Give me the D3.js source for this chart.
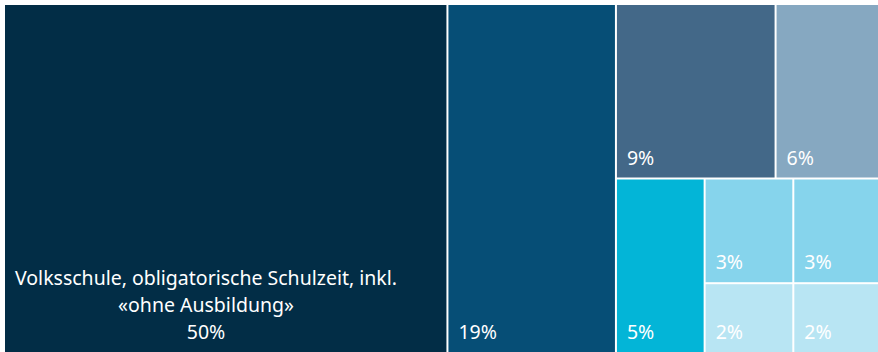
<!DOCTYPE html>
<html>
<head>
<meta charset="utf-8">
<script src="https://cdn.jsdelivr.net/npm/d3@7"></script>
<style>
  html, body { margin: 0; padding: 0; background: #ffffff; }
  svg { display: block; }
  text { font-family: "Noto Sans", Lato, sans-serif; fill: #ffffff; }
</style>
</head>
<body>
<svg id="chart" width="878" height="352"></svg>
<script>
// Nodes of the treemap: leaves carry a share (in %), groups only nest them.
const nodeIds   = ["root", "A", "B", "R", "T", "U", "C", "D", "E", "V", "W", "F", "G", "H", "I"];
const parentIds = ["",     "root", "root", "root", "R", "R", "T", "T", "U", "U", "U", "V", "V", "W", "W"];
const shares    = [null,   50,   19,   null, null, null, 9,   6,   5,   null, null, 3,   2,   3,   2];
const names     = ["", "Volksschule, obligatorische Schulzeit, inkl. «ohne Ausbildung»", "", "", "", "", "", "", "", "", "", "", "", "", ""];

// Fill colours per leaf
const leafIds  = ["A", "B", "C", "D", "E", "F", "G", "H", "I"];
const palette  = ["#022d46", "#064e76", "#436888", "#86a8c1", "#03b5d7", "#86d4ec", "#b8e5f3", "#86d4ec", "#b8e5f3"];

const W = 878, H = 352;
const margin = { left: 5, top: 5 };
const svg = d3.select("#chart");
const plot = svg.append("g").attr("transform", `translate(${margin.left},${margin.top})`);

const table = nodeIds.map((id, i) => ({ id, parent: parentIds[i] || null, value: shares[i], name: names[i] }));
const root = d3.stratify().id(d => d.id).parentId(d => d.parent)(table)
  .sum(d => d.value || 0);

d3.treemap()
  .tile(d3.treemapSliceDice)
  .size([W + 3 - margin.left, H - margin.top])
  .paddingInner(2)
  .round(false)(root);

const color = d3.scaleOrdinal().domain(leafIds).range(palette);
const fmt = v => d3.format(".0f")(v) + "%";

const cells = plot.selectAll("g.cell")
  .data(root.leaves())
  .join("g")
  .attr("class", "cell");

cells.append("rect")
  .attr("x", d => d.x0)
  .attr("y", d => d.y0)
  .attr("width", d => d.x1 - d.x0)
  .attr("height", d => d.y1 - d.y0)
  .attr("fill", d => color(d.id));

const fontSize = 19.5, lineH = 27, padX = 10, padBottom = 13;

cells.each(function (d) {
  const g = d3.select(this);
  const name = d.data.name;
  if (!name) {
    g.append("text")
      .attr("x", d.x0 + padX)
      .attr("y", d.y1 - padBottom)
      .attr("font-size", fontSize)
      .text(fmt(d.value));
    return;
  }
  // wrap the category name to the cell width, then centre the block
  const maxW = (d.x1 - d.x0) * 0.9;
  const probe = g.append("text").attr("font-size", fontSize);
  const words = name.split(" ");
  const lines = [];
  let cur = "";
  words.forEach(w => {
    const test = cur ? cur + " " + w : w;
    probe.text(test);
    if (probe.node().getComputedTextLength() > maxW && cur) {
      lines.push(cur);
      cur = w;
    } else cur = test;
  });
  if (cur) lines.push(cur);
  lines.push(fmt(d.value));
  let widest = 0;
  lines.forEach(l => { probe.text(l); widest = Math.max(widest, probe.node().getComputedTextLength()); });
  probe.remove();
  const cx = d.x0 + padX + widest / 2;
  const lastY = d.y1 - padBottom;
  g.selectAll("text.lbl")
    .data(lines)
    .join("text")
    .attr("class", "lbl")
    .attr("x", cx)
    .attr("y", (l, i) => lastY - (lines.length - 1 - i) * lineH)
    .attr("text-anchor", "middle")
    .attr("font-size", fontSize)
    .text(l => l);
});
</script>
</body>
</html>
